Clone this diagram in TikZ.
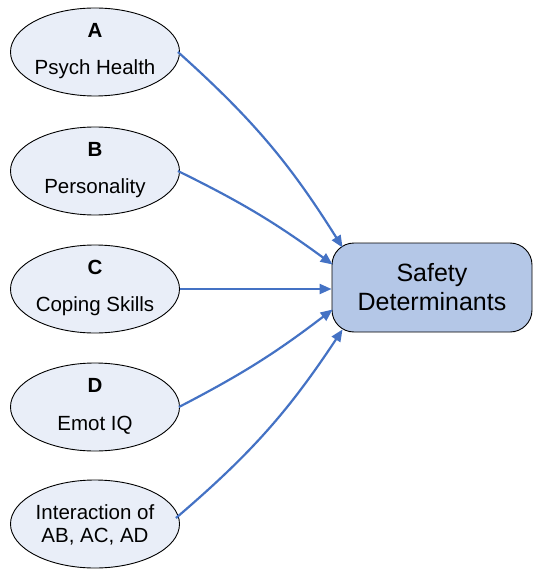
\documentclass[tikz,border=0pt]{standalone}
\usepackage{fontspec}
\setmainfont{Liberation Sans}
\usetikzlibrary{shapes.geometric,arrows.meta,calc}
\definecolor{ellfill}{HTML}{E9EEF8}
\definecolor{boxfill}{HTML}{B4C7E7}
\definecolor{arrowblue}{HTML}{4472C4}
\begin{document}
\begin{tikzpicture}[x=1pt,y=-1pt,
  factor/.style={ellipse, draw=black, line width=0.9pt, fill=ellfill,
    minimum width=169pt, minimum height=88pt, inner sep=0pt},
  lbl/.style={font=\fontsize{20.5}{24}\selectfont, inner sep=0pt},
  lblb/.style={font=\fontsize{20.5}{24}\selectfont\bfseries, inner sep=0pt},
  outcome/.style={draw=black, line width=0.9pt, fill=boxfill, rounded corners=22pt,
    minimum width=200pt, minimum height=89pt, align=center,
    font=\fontsize{25}{29}\selectfont},
  link/.style={draw=arrowblue, line width=2.2pt, -{Triangle[length=12pt,width=10pt]}}]
\useasboundingbox (0,0) rectangle (533,569);
\node[factor] (a) at (95,52) {};
\node[factor] (b) at (95,171) {};
\node[factor] (c) at (95,289) {};
\node[factor] (d) at (95,407) {};
\node[factor] (e) at (95,524) {};
\node[lblb] (at) at (95,30) {A};
\node[lbl] (al) at (95,69) {Psych Health};
\node[lblb] (bt) at (95,149) {B};
\node[lbl] (bl) at (95,188) {Personality};
\node[lblb] (ct) at (95,267) {C};
\node[lbl] (cl) at (95,306) {Coping Skills};
\node[lblb] (dt) at (95,385) {D};
\node[lbl] (dl) at (95,425) {Emot IQ};
\node[lbl] (el1) at (95,512) {Interaction of};
\node[lbl] (el2) at (95,537) {AB, AC, AD};
\node[outcome] (box) at (432,287.5) {Safety\\Determinants};
\draw[link] (a.east) ++(-2,0) to[bend left=8] ($(box.north west)+(11,5)$);
\draw[link] (b.east) ++(-2,0) to[bend left=5] ($(box.west)+(1,-23)$);
\draw[link] (c.east) -- (c.east -| box.west);
\draw[link] (d.east) ++(-1,0) to[bend right=5] ($(box.west)+(1,22)$);
\draw[link] (e.east) ++(-4,-6) to[bend right=8] ($(box.south west)+(11,-3)$);
\end{tikzpicture}
\end{document}
